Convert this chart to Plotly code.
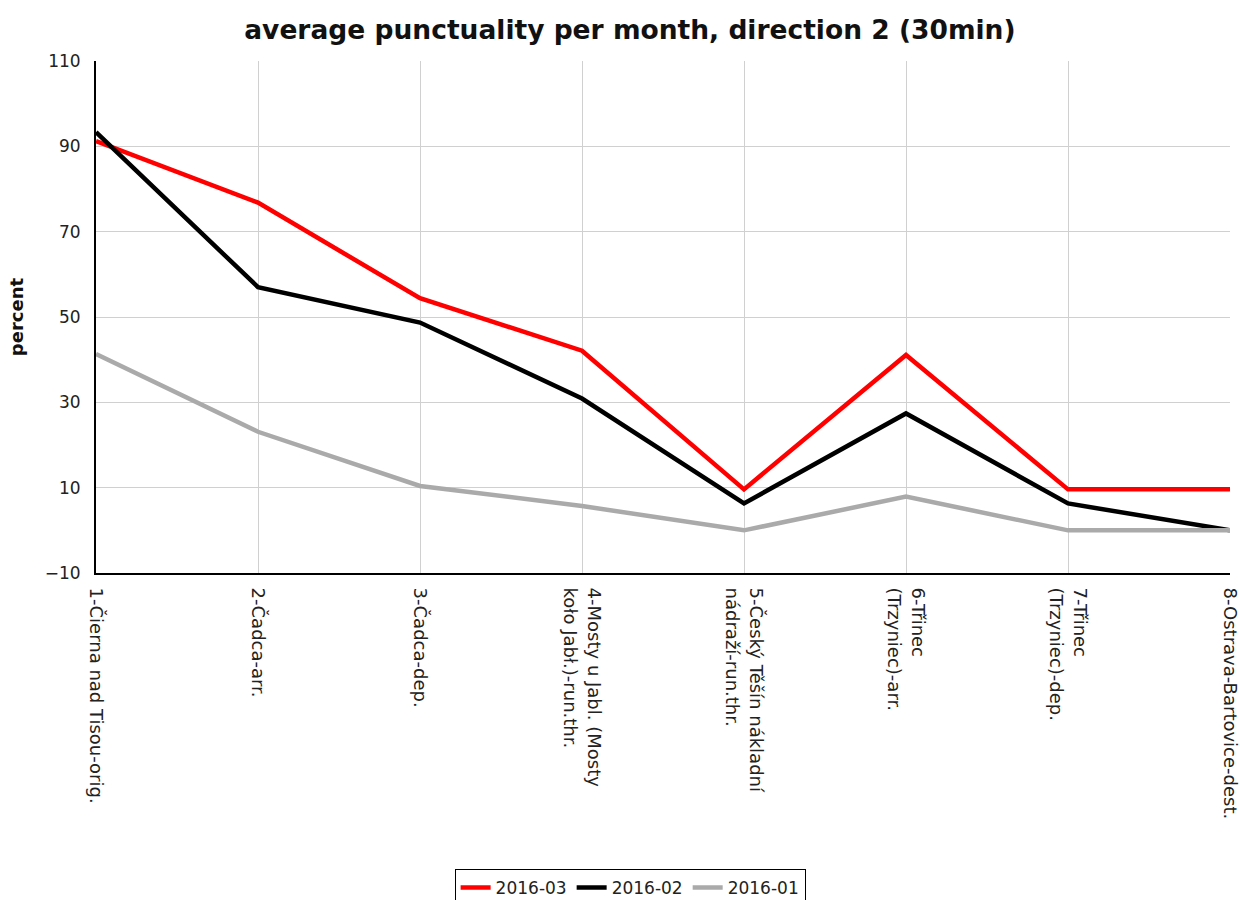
import plotly.graph_objects as go

categories = [
    "1-Čierna nad Tisou-orig.",
    "2-Čadca-arr.",
    "3-Čadca-dep.",
    "4-Mosty u Jabl. (Mosty<br>koło Jabł.)-run.thr.",
    "5-Český Těšín nákladní<br>nádraží-run.thr.",
    "6-Třinec<br>(Trzyniec)-arr.",
    "7-Třinec<br>(Trzyniec)-dep.",
    "8-Ostrava-Bartovice-dest.",
]

s_2016_03 = [91.2, 76.8, 54.4, 42.1, 9.6, 41.1, 9.6, 9.6]
s_2016_02 = [93.3, 57.0, 48.7, 30.9, 6.3, 27.4, 6.3, 0.0]
s_2016_01 = [41.3, 23.1, 10.4, 5.7, 0.0, 7.9, 0.0, 0.0]

series = [
    ("2016-03", s_2016_03, "#ff0000"),
    ("2016-02", s_2016_02, "#000000"),
    ("2016-01", s_2016_01, "#aaaaaa"),
]

y_ticks = [-10, 10, 30, 50, 70, 90, 110]

fig = go.Figure()
for name, vals, color in series:
    fig.add_trace(go.Scatter(
        x=categories, y=vals, name=name, mode="lines",
        line=dict(color=color, width=4.5),
    ))

font_family = "DejaVu Sans"
fig.update_layout(
    width=1240, height=900,
    paper_bgcolor="white", plot_bgcolor="white",
    margin=dict(l=96, r=10, t=61, b=327, autoexpand=False),
    font=dict(family=font_family, size=16, color="#222"),
    title=dict(
        text="<b>average punctuality per month, direction 2 (30min)</b>",
        x=0.508, xref="container", xanchor="center",
        y=1 - 30 / 900, yref="container", yanchor="middle",
        font=dict(family=font_family, size=26.5, color="#111"),
    ),
    showlegend=True,
    legend=dict(
        orientation="h",
        x=0.471, xanchor="center",
        y=-0.578, yanchor="top",
        bordercolor="#000", borderwidth=1,
        font=dict(family=font_family, size=17, color="#222"),
        itemwidth=30,
        tracegroupgap=0,
    ),
)

fig.update_xaxes(
    type="category",
    range=[0, len(categories) - 1],
    tickangle=90,
    automargin=False,
    showgrid=True, gridcolor="#d0d0d0", gridwidth=1,
    showline=True, linecolor="#000", linewidth=2,
    ticks="", ticklabelstandoff=9,
    tickfont=dict(family=font_family, size=18, color="#222"),
    zeroline=False,
)
fig.update_yaxes(
    range=[-10, 110],
    tickvals=y_ticks,
    automargin=True,
    showgrid=True, gridcolor="#d0d0d0", gridwidth=1,
    showline=True, linecolor="#000", linewidth=2,
    ticks="", ticklabelstandoff=10,
    tickfont=dict(family=font_family, size=17, color="#222"),
    zeroline=False,
    title=dict(text="<b>percent</b>", standoff=16,
               font=dict(family=font_family, size=18, color="#111")),
)

fig.write_html(
    "out.html",
    config={"displayModeBar": False},
    post_script="document.body.style.margin='0';document.body.style.overflow='hidden';",
)
